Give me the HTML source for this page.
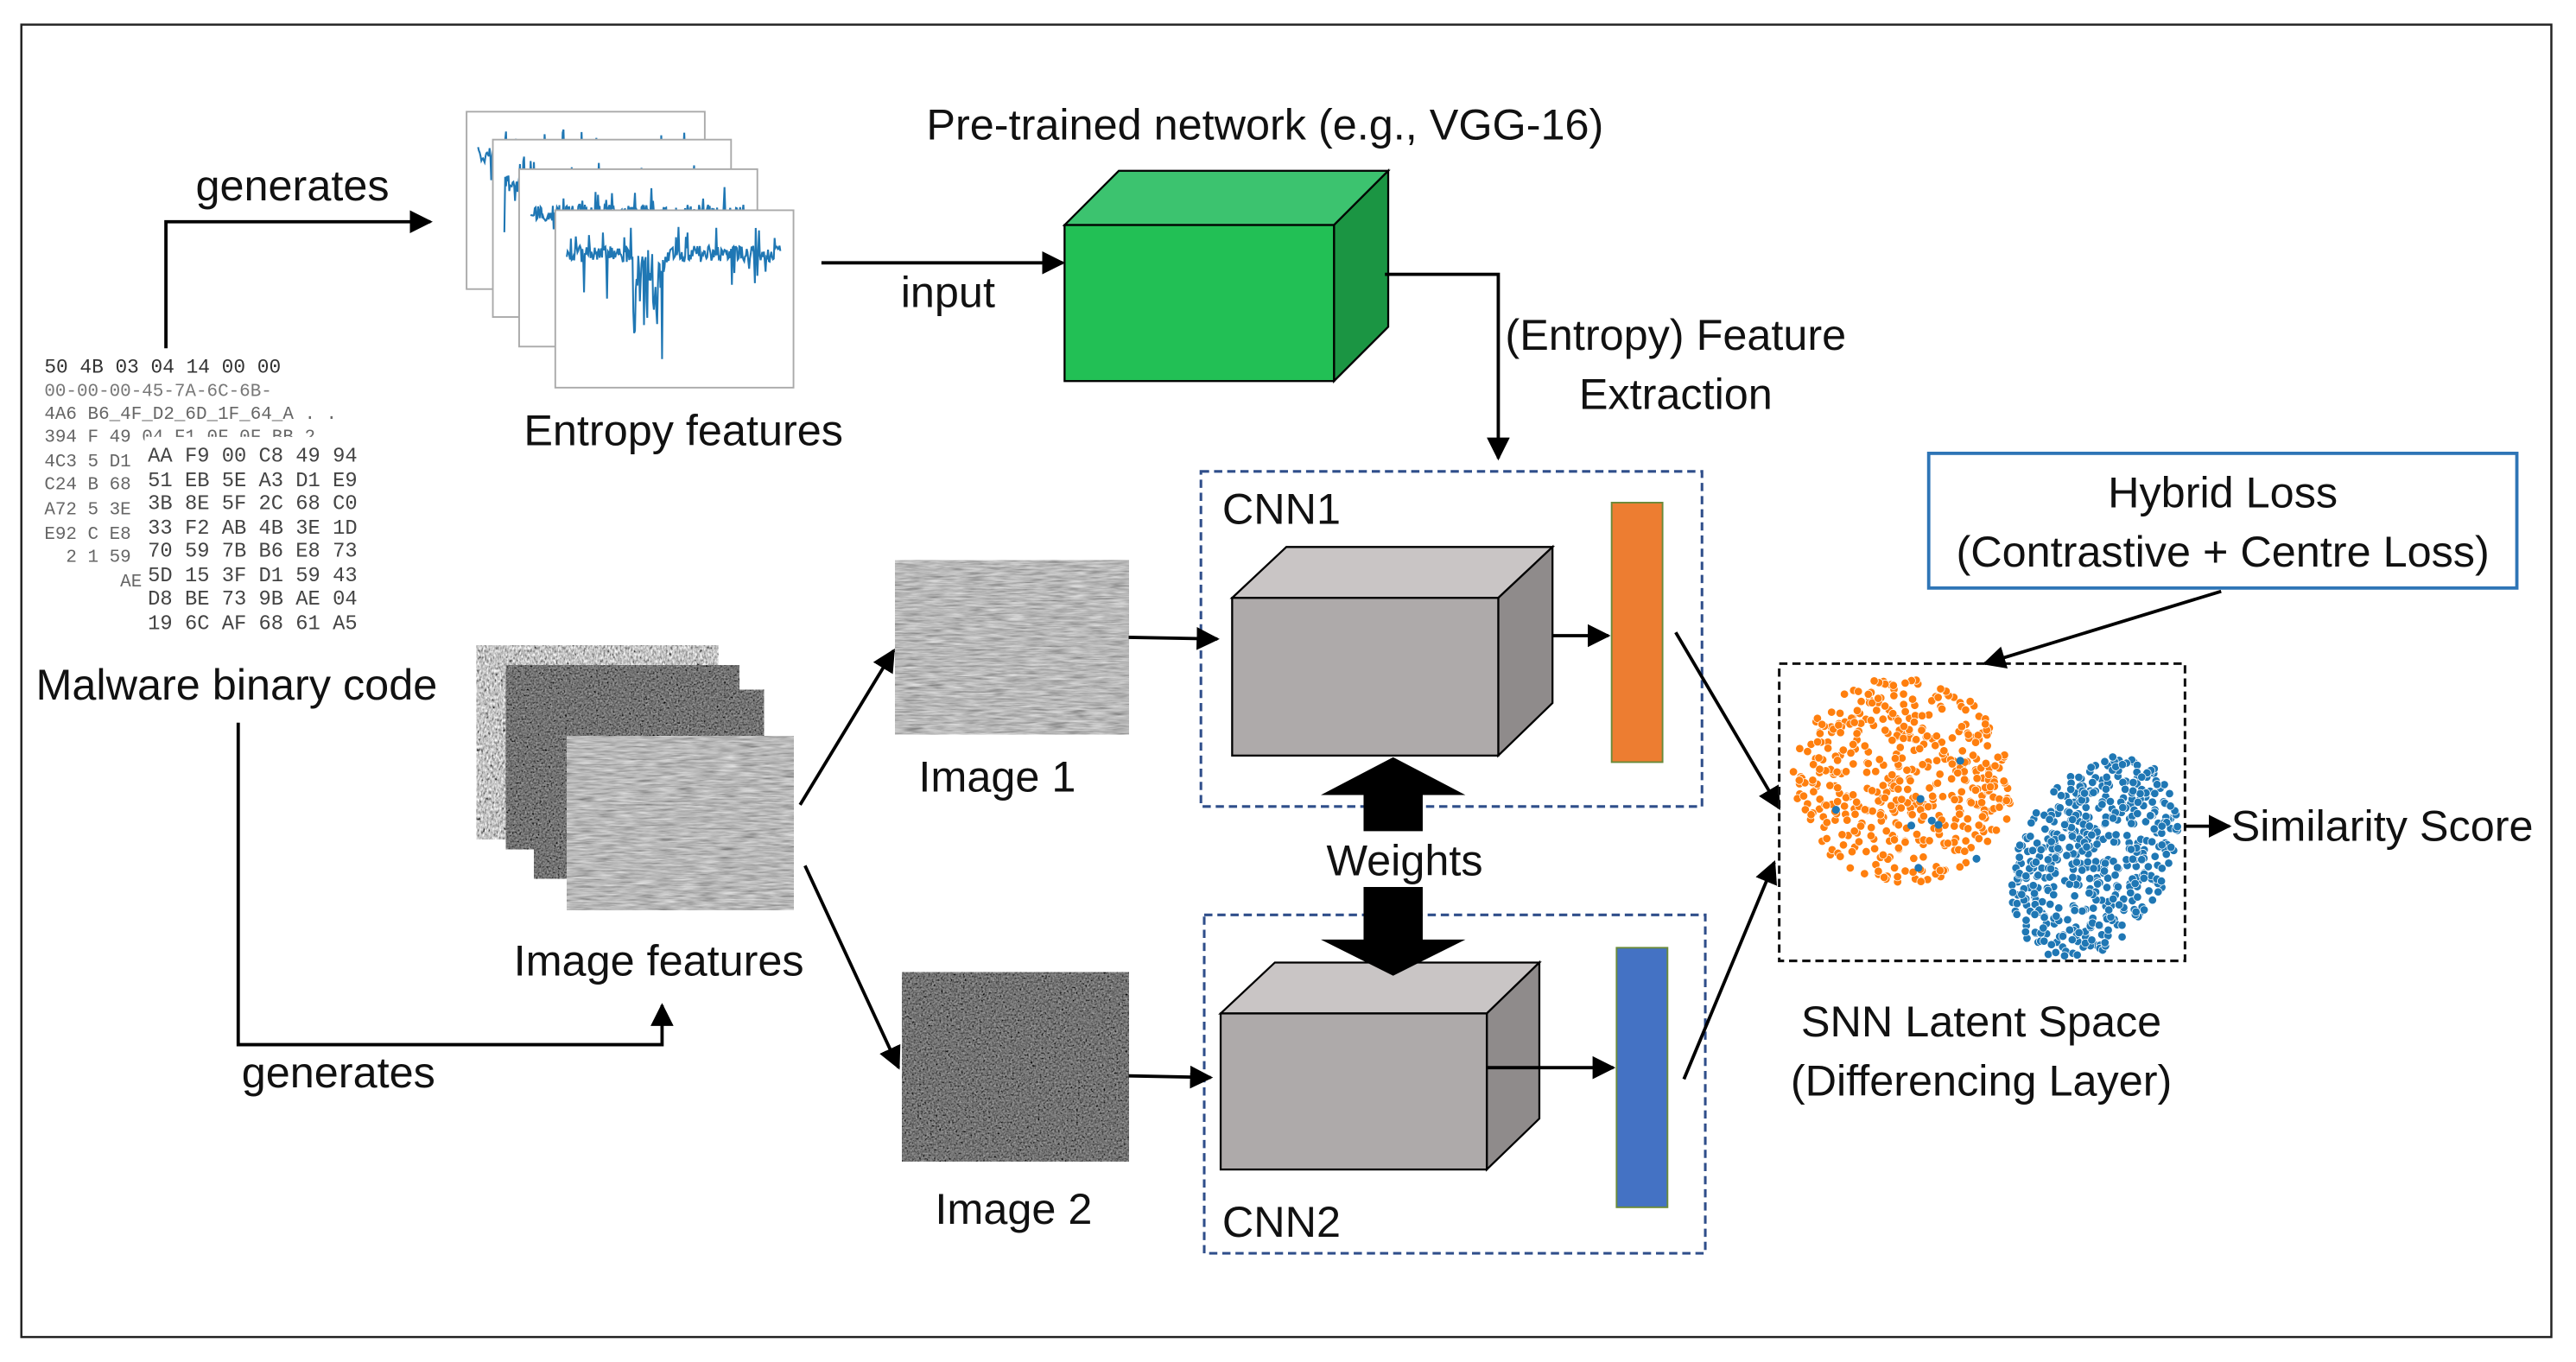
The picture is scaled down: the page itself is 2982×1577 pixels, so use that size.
<!DOCTYPE html>
<html><head><meta charset="utf-8">
<style>
html,body{margin:0;padding:0;background:#fff}
svg{display:block}
text{font-family:"Liberation Sans",sans-serif;fill:#111}
</style></head>
<body>
<svg id="s" width="2982" height="1577" viewBox="0 0 1568 829.2" preserveAspectRatio="none" xmlns="http://www.w3.org/2000/svg">
<defs>
<marker id="ah" viewBox="0 0 10 10" refX="9" refY="5" markerWidth="7" markerHeight="7" orient="auto-start-reverse"><path d="M0,0 L10,5 L0,10 z" fill="#000"/></marker>
<filter id="nz" x="0" y="0" width="1" height="1"><feTurbulence type="fractalNoise" baseFrequency="0.08 0.9" numOctaves="3" seed="5" result="t"/><feColorMatrix in="t" type="matrix" values="0.4 0.4 0.4 0 -0.12  0.4 0.4 0.4 0 -0.12  0.4 0.4 0.4 0 -0.12  0 0 0 0 1"/></filter>
<filter id="nd" x="0" y="0" width="1" height="1"><feTurbulence type="fractalNoise" baseFrequency="0.9" numOctaves="2" seed="9" result="t"/><feColorMatrix in="t" type="matrix" values="0.3 0.3 0.3 0 -0.28  0.3 0.3 0.3 0 -0.28  0.3 0.3 0.3 0 -0.28  0 0 0 0 1"/></filter>
<filter id="nm" x="0" y="0" width="1" height="1"><feTurbulence type="fractalNoise" baseFrequency="0.9 0.5" numOctaves="2" seed="2" result="t"/><feColorMatrix in="t" type="matrix" values="0.8 0.8 0.8 0 -0.65  0.8 0.8 0.8 0 -0.65  0.8 0.8 0.8 0 -0.65  0 0 0 0 1"/></filter>
</defs>
<rect x="13" y="15" width="1540" height="799" fill="none" stroke="#222" stroke-width="1.3"/>

<polyline points="101,212 101,135 262,135" fill="none" stroke="#000" stroke-width="2" marker-end="url(#ah)"/>
<text x="178" y="122" font-size="26.5" text-anchor="middle">generates</text>

<g id="ent"></g>
<text x="416" y="271" font-size="26.5" text-anchor="middle">Entropy features</text>

<g>
<text x="27" y="227" style="font-family:'Liberation Mono',monospace;fill:#333" font-size="12" xml:space="preserve">50 4B 03 04 14 00 00</text>
<text x="27" y="241" style="font-family:'Liberation Mono',monospace;fill:#777" font-size="11" xml:space="preserve">00-00-00-45-7A-6C-6B-</text>
<text x="27" y="255" style="font-family:'Liberation Mono',monospace;fill:#666" font-size="11" xml:space="preserve">4A6 B6_4F_D2_6D_1F_64_A . .</text>
<text x="27" y="269" style="font-family:'Liberation Mono',monospace;fill:#666" font-size="11" xml:space="preserve">394 F 49 04 F1 0F 0F BB 2</text>
<text x="27" y="284" style="font-family:'Liberation Mono',monospace;fill:#666" font-size="11" xml:space="preserve">4C3 5 D1</text>
<text x="27" y="298" style="font-family:'Liberation Mono',monospace;fill:#666" font-size="11" xml:space="preserve">C24 B 68</text>
<text x="27" y="313" style="font-family:'Liberation Mono',monospace;fill:#666" font-size="11" xml:space="preserve">A72 5 3E</text>
<text x="27" y="328" style="font-family:'Liberation Mono',monospace;fill:#666" font-size="11" xml:space="preserve">E92 C E8</text>
<text x="27" y="342" style="font-family:'Liberation Mono',monospace;fill:#666" font-size="11" xml:space="preserve">  2 1 59</text>
<text x="27" y="357" style="font-family:'Liberation Mono',monospace;fill:#666" font-size="11" xml:space="preserve">       AE</text>
<rect x="88" y="266" width="140" height="125" fill="#fff"/>
<text x="90" y="281" style="font-family:'Liberation Mono',monospace;fill:#444" font-size="12.5" xml:space="preserve">AA F9 00 C8 49 94</text>
<text x="90" y="296" style="font-family:'Liberation Mono',monospace;fill:#444" font-size="12.5" xml:space="preserve">51 EB 5E A3 D1 E9</text>
<text x="90" y="310" style="font-family:'Liberation Mono',monospace;fill:#444" font-size="12.5" xml:space="preserve">3B 8E 5F 2C 68 C0</text>
<text x="90" y="325" style="font-family:'Liberation Mono',monospace;fill:#444" font-size="12.5" xml:space="preserve">33 F2 AB 4B 3E 1D</text>
<text x="90" y="339" style="font-family:'Liberation Mono',monospace;fill:#444" font-size="12.5" xml:space="preserve">70 59 7B B6 E8 73</text>
<text x="90" y="354" style="font-family:'Liberation Mono',monospace;fill:#444" font-size="12.5" xml:space="preserve">5D 15 3F D1 59 43</text>
<text x="90" y="368" style="font-family:'Liberation Mono',monospace;fill:#444" font-size="12.5" xml:space="preserve">D8 BE 73 9B AE 04</text>
<text x="90" y="383" style="font-family:'Liberation Mono',monospace;fill:#444" font-size="12.5" xml:space="preserve">19 6C AF 68 61 A5</text>
</g>
<text x="144" y="426" font-size="26.5" text-anchor="middle">Malware binary code</text>

<polyline points="145,440 145,636 403,636 403,612" fill="none" stroke="#000" stroke-width="2" marker-end="url(#ah)"/>
<text x="206" y="662" font-size="26.5" text-anchor="middle">generates</text>

<line x1="500" y1="160" x2="647" y2="160" stroke="#000" stroke-width="2" marker-end="url(#ah)"/>
<text x="577" y="187" font-size="26.5" text-anchor="middle">input</text>

<text x="770" y="85" font-size="26.5" text-anchor="middle">Pre-trained network (e.g., VGG-16)</text>
<polygon points="648,137 681,104 845,104 812,137" fill="#3cc36f" stroke="#000" stroke-width="1.2"/>
<polygon points="812,137 845,104 845,199 812,232" fill="#1b9543" stroke="#000" stroke-width="1.2"/>
<rect x="648" y="137" width="164" height="95" fill="#22c055" stroke="#000" stroke-width="1.2"/>

<polyline points="843,167 912,167 912,279" fill="none" stroke="#000" stroke-width="2" marker-end="url(#ah)"/>
<text x="1020" y="213" font-size="26.5" text-anchor="middle">(Entropy) Feature</text>
<text x="1020" y="249" font-size="26.5" text-anchor="middle">Extraction</text>

<rect x="731" y="287" width="305" height="204" fill="none" stroke="#2f4e8a" stroke-width="1.6" stroke-dasharray="5,3"/>
<text x="744" y="319" font-size="26.5">CNN1</text>
<polygon points="750,364 783,333 945,333 912,364" fill="#c9c5c5" stroke="#000" stroke-width="1.2"/>
<polygon points="912,364 945,333 945,428 912,460" fill="#8f8b8b" stroke="#000" stroke-width="1.2"/>
<rect x="750" y="364" width="162" height="96" fill="#aeaaaa" stroke="#000" stroke-width="1.2"/>
<line x1="945" y1="387" x2="979" y2="387" stroke="#000" stroke-width="2" marker-end="url(#ah)"/>
<rect x="981" y="306" width="31" height="158" fill="#ed7d31" stroke="#6a8a3a" stroke-width="1"/>

<rect x="733" y="557" width="305" height="206" fill="none" stroke="#2f4e8a" stroke-width="1.6" stroke-dasharray="5,3"/>
<text x="744" y="753" font-size="26.5">CNN2</text>
<polygon points="743,617 776,586 937,586 905,617" fill="#c9c5c5" stroke="#000" stroke-width="1.2"/>
<polygon points="905,617 937,586 937,681 905,712" fill="#8f8b8b" stroke="#000" stroke-width="1.2"/>
<rect x="743" y="617" width="162" height="95" fill="#aeaaaa" stroke="#000" stroke-width="1.2"/>
<line x1="905" y1="650" x2="982" y2="650" stroke="#000" stroke-width="2" marker-end="url(#ah)"/>
<rect x="984" y="577" width="31" height="158" fill="#4472c4" stroke="#6a8a3a" stroke-width="1"/>

<polygon points="848,461 892,484 866,484 866,506 830,506 830,484 804,484" fill="#000"/>
<polygon points="830,540 866,540 866,572 892,572 848,594 804,572 830,572" fill="#000"/>
<text x="855" y="533" font-size="26.5" text-anchor="middle">Weights</text>

<rect x="290" y="393" width="147" height="118" filter="url(#nm)"/>
<rect x="308" y="405" width="142" height="112" filter="url(#nd)"/>
<rect x="325" y="420" width="140" height="115" filter="url(#nd)"/>
<rect x="345" y="448" width="138" height="106" filter="url(#nz)"/>
<text x="401" y="594" font-size="26.5" text-anchor="middle">Image features</text>
<line x1="487" y1="490" x2="544" y2="396" stroke="#000" stroke-width="2" marker-end="url(#ah)"/>
<line x1="490" y1="527" x2="547" y2="650" stroke="#000" stroke-width="2" marker-end="url(#ah)"/>

<rect x="545" y="341" width="142" height="106" filter="url(#nz)"/>
<text x="607" y="482" font-size="26.5" text-anchor="middle">Image 1</text>
<line x1="687" y1="388" x2="741" y2="389" stroke="#000" stroke-width="2" marker-end="url(#ah)"/>
<rect x="549" y="592" width="138" height="115" filter="url(#nd)"/>
<text x="617" y="745" font-size="26.5" text-anchor="middle">Image 2</text>
<line x1="687" y1="655" x2="737" y2="656" stroke="#000" stroke-width="2" marker-end="url(#ah)"/>

<line x1="1020" y1="385" x2="1083" y2="492" stroke="#000" stroke-width="2" marker-end="url(#ah)"/>
<line x1="1025" y1="657" x2="1080" y2="525" stroke="#000" stroke-width="2" marker-end="url(#ah)"/>

<g id="sc"></g>
<rect x="1083" y="404" width="247" height="181" fill="none" stroke="#111" stroke-width="1.6" stroke-dasharray="5,3"/>
<text x="1206" y="631" font-size="26.5" text-anchor="middle">SNN Latent Space</text>
<text x="1206" y="667" font-size="26.5" text-anchor="middle">(Differencing Layer)</text>

<rect x="1174" y="276" width="358" height="82" fill="#fff" stroke="#2e75b6" stroke-width="2"/>
<text x="1353" y="309" font-size="26.5" text-anchor="middle">Hybrid Loss</text>
<text x="1353" y="345" font-size="26.5" text-anchor="middle">(Contrastive + Centre Loss)</text>
<line x1="1352" y1="360" x2="1208" y2="404" stroke="#000" stroke-width="2" marker-end="url(#ah)"/>

<line x1="1330" y1="503" x2="1357" y2="503" stroke="#000" stroke-width="2" marker-end="url(#ah)"/>
<text x="1450" y="512" font-size="26.5" text-anchor="middle">Similarity Score</text>
</svg>
<script>
(function(){
var NS="http://www.w3.org/2000/svg";
var seed=7;function r(){seed=(seed*16807)%2147483647;return seed/2147483647;}
function el(t,a,p){var e=document.createElementNS(NS,t);for(var k in a)e.setAttribute(k,a[k]);p.appendChild(e);return e;}
var ent=document.getElementById('ent');
var fr=[[284,68],[300,85],[316,103],[338,128]];
fr.forEach(function(f,i){
 var x=f[0],y=f[1],w=145,h=108;
 el('rect',{x:x,y:y,width:w,height:h,fill:'#fff',stroke:'#aaa','stroke-width':1},ent);
 var pts=[];var base=y+h*0.2;
 for(var j=0;j<=260;j++){var px=x+7+j/2;var v=base+r()*10;
  if(r()<0.06)v+=r()*30; if(i==3&&j>80&&j<120)v+=r()*45; if(i==3&&j==116)v=y+h*0.95; if(r()<0.04)v-=12;
  pts.push(px.toFixed(1)+','+v.toFixed(1));}
 el('polyline',{points:pts.join(' '),fill:'none',stroke:'#1f77b4','stroke-width':1.1},ent);
});
var sc=document.getElementById('sc');
function blob(cx,cy,rx,ry,n,col,rot){
 for(var k=0;k<n;k++){var a=r()*6.283,d=Math.sqrt(r());var dx=Math.cos(a)*rx*d,dy=Math.sin(a)*ry*d;
  var c=Math.cos(rot),s=Math.sin(rot);
  el('circle',{cx:cx+dx*c-dy*s,cy:cy+dx*s+dy*c,r:2.5,fill:col,stroke:'#fff','stroke-width':0.4},sc);}
}
blob(1158,475,68,62,480,'#ff7f0e',0.2);
blob(1275,522,45,66,520,'#1f77b4',0.5);
for(var k=0;k<8;k++)el('circle',{cx:1110+r()*100,cy:430+r()*110,r:2.4,fill:'#1f77b4'},sc);
})();
</script>
</body></html>
